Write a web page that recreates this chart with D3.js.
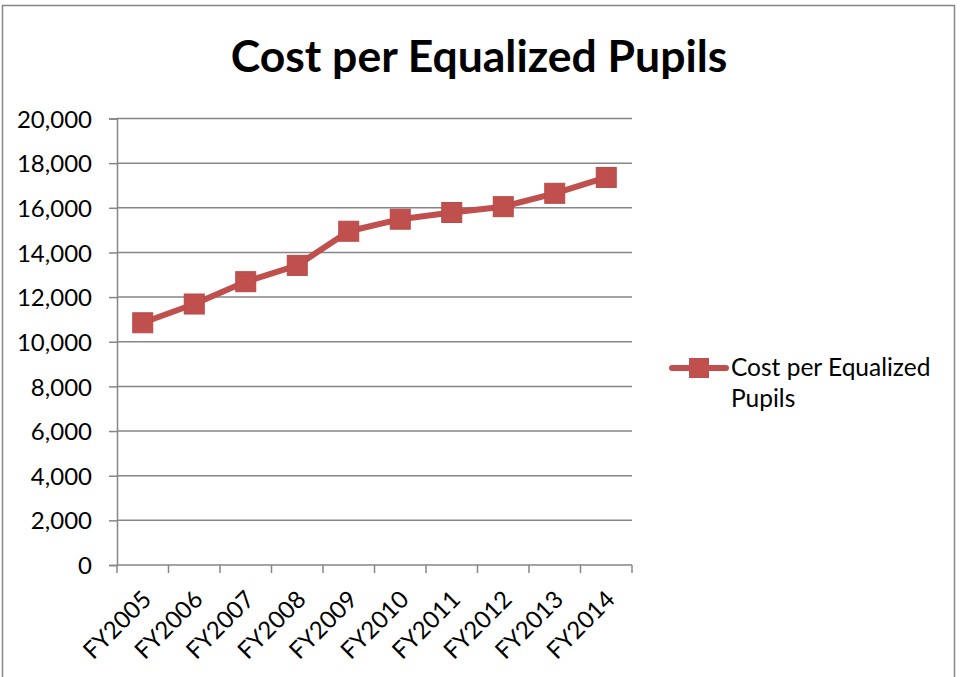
<!DOCTYPE html>
<html>
<head>
<meta charset="utf-8">
<script src="https://cdn.jsdelivr.net/npm/d3@7"></script>
<style>
  body { margin: 0; background: #fff; }
  svg text { font-family: Lato, "Open Sans", sans-serif; fill: #000; }
</style>
</head>
<body>
<div class="chart"></div>
<script>
  const years = ['FY2005', 'FY2006', 'FY2007', 'FY2008', 'FY2009',
    'FY2010', 'FY2011', 'FY2012', 'FY2013', 'FY2014'];
  const costs = [10850, 11690, 12690, 13420, 14950, 15490, 15790, 16050, 16650, 17360];
  const yTicks = [0, 2000, 4000, 6000, 8000, 10000, 12000, 14000, 16000, 18000, 20000];
  const seriesName = 'Cost per Equalized Pupils';

  const config = {
    width: 960,
    height: 677,
    left: 117,
    right: 632,
    top: 118.5,
    bottom: 565,
    red: '#c0504d',
    grid: '#868686'
  };

  const svg = d3.select('.chart')
    .append('svg')
    .attr('width', config.width)
    .attr('height', config.height);

  // outer frame
  svg.append('rect')
    .attr('x', 2.5)
    .attr('y', 5.5)
    .attr('width', 952)
    .attr('height', 680)
    .attr('fill', 'none')
    .attr('stroke', config.grid)
    .attr('stroke-width', 1.5);

  svg.append('text')
    .attr('x', 479)
    .attr('y', 72)
    .attr('text-anchor', 'middle')
    .attr('font-size', 44.5)
    .attr('font-weight', 'bold')
    .text(seriesName);

  const x = d3.scaleBand()
    .domain(years)
    .range([config.left, config.right]);

  const y = d3.scaleLinear()
    .domain([0, 20000])
    .range([config.bottom, config.top]);

  // gridlines
  svg.append('g')
    .selectAll('line')
    .data(yTicks.slice(1))
    .enter()
    .append('line')
    .attr('x1', config.left)
    .attr('x2', config.right)
    .attr('y1', d => y(d))
    .attr('y2', d => y(d))
    .attr('stroke', config.grid)
    .attr('stroke-width', 1.5);

  const yAxis = svg.append('g')
    .attr('transform', `translate(${config.left},0)`)
    .call(d3.axisLeft(y).tickValues(yTicks).tickSize(8).tickPadding(17)
      .tickFormat(d3.format(',')));

  yAxis.select('.domain').attr('stroke', config.grid).attr('stroke-width', 1.5);
  yAxis.selectAll('.tick line').attr('stroke', config.grid).attr('stroke-width', 1.5);
  yAxis.selectAll('.tick text')
    .attr('font-size', 24)
    .attr('font-family', 'Lato, sans-serif')
    .attr('fill', '#000')
    .attr('dy', '0.36em');

  // x axis line and ticks at band edges
  const xEdges = years.map(d => x(d)).concat([config.right]);
  svg.append('line')
    .attr('x1', config.left)
    .attr('x2', config.right)
    .attr('y1', config.bottom)
    .attr('y2', config.bottom)
    .attr('stroke', config.grid)
    .attr('stroke-width', 1.5);
  svg.append('g')
    .selectAll('line')
    .data(xEdges)
    .enter()
    .append('line')
    .attr('x1', d => d)
    .attr('x2', d => d)
    .attr('y1', config.bottom)
    .attr('y2', config.bottom + 8)
    .attr('stroke', config.grid)
    .attr('stroke-width', 1.5);

  svg.append('g')
    .selectAll('text')
    .data(years)
    .enter()
    .append('text')
    .attr('font-size', 24)
    .attr('text-anchor', 'end')
    .attr('transform', d => `translate(${x(d) + x.bandwidth() / 2 + 10}, ${config.bottom + 36}) rotate(-45)`)
    .text(d => d);

  // series
  const line = d3.line()
    .x((d, i) => x(years[i]) + x.bandwidth() / 2)
    .y(d => y(d));

  svg.append('path')
    .datum(costs)
    .attr('d', line)
    .attr('fill', 'none')
    .attr('stroke', config.red)
    .attr('stroke-width', 6)
    .attr('stroke-linejoin', 'round');

  svg.append('g')
    .selectAll('rect')
    .data(costs)
    .enter()
    .append('rect')
    .attr('x', (d, i) => x(years[i]) + x.bandwidth() / 2 - 10)
    .attr('y', d => y(d) - 10)
    .attr('width', 20)
    .attr('height', 20)
    .attr('fill', config.red)
    .attr('stroke', '#b84a47')
    .attr('stroke-width', 1);

  // legend
  const legend = svg.append('g').attr('transform', 'translate(672, 368)');
  legend.append('line')
    .attr('x1', 0)
    .attr('x2', 54)
    .attr('stroke', config.red)
    .attr('stroke-width', 6)
    .attr('stroke-linecap', 'round');
  legend.append('rect')
    .attr('x', 17)
    .attr('y', -10)
    .attr('width', 20)
    .attr('height', 20)
    .attr('fill', config.red);
  legend.append('text')
    .attr('x', 59)
    .attr('y', 8)
    .attr('font-size', 24.5)
    .text('Cost per Equalized');
  legend.append('text')
    .attr('x', 59)
    .attr('y', 39)
    .attr('font-size', 24.5)
    .text('Pupils');
</script>
</body>
</html>
